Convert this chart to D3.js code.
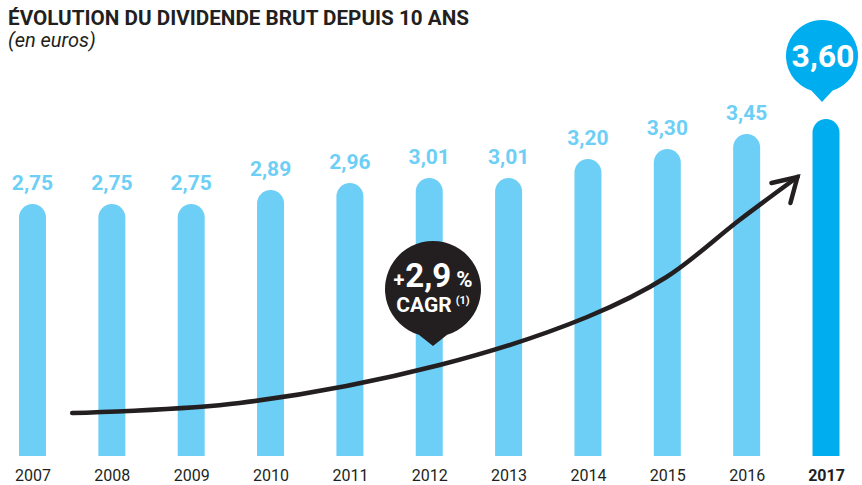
<!DOCTYPE html>
<html>
<head>
<meta charset="utf-8">
<script src="https://cdn.jsdelivr.net/npm/d3@7"></script>
<style>
  html, body { margin: 0; padding: 0; background: #fff; }
  svg { display: block; }
  text { font-family: Roboto, "Open Sans", sans-serif; }
</style>
</head>
<body>
<svg id="chart" width="862" height="485"></svg>
<script>
// ---- data ----
const years = ["2007","2008","2009","2010","2011","2012","2013","2014","2015","2016","2017"];
const dividends = [2.75, 2.75, 2.75, 2.89, 2.96, 3.01, 3.01, 3.20, 3.30, 3.45, 3.60];
const valueLabels = ["2,75","2,75","2,75","2,89","2,96","3,01","3,01","3,20","3,30","3,45","3,60"];
const highlightYear = "2017";
const title = "ÉVOLUTION DU DIVIDENDE BRUT DEPUIS 10 ANS";
const subtitle = "(en euros)";
const cagrText = ["2,9", "CAGR"];
// trend arrow annotation, in [year, value] units
const trendYears = [2007.50, 2009.61, 2012.13, 2013.99, 2014.99, 2015.91, 2016.64];
const trendValues = [0.66, 0.76, 1.14, 1.62, 2.02, 2.59, 3.02];

const lightBlue = "#6dcff6", strongBlue = "#00aeef", ink = "#231f20";

const svg = d3.select("#chart");
const x = d3.scalePoint().domain(years).range([32.5, 826]);
const xNum = d3.scaleLinear().domain([2007, 2017]).range([32.5, 826]);
const y = d3.scaleLinear().domain([0.23, 3.60]).range([456, 119]);
const barW = 27, r = barW / 2;
const baseY = y(0.23);

// title
svg.append("text").attr("x", 8).attr("y", 25)
  .attr("font-size", 20).attr("font-weight", 700).attr("fill", ink)
  .attr("textLength", 461).attr("lengthAdjust", "spacingAndGlyphs").text(title);
svg.append("text").attr("x", 8).attr("y", 47)
  .attr("font-size", 20).attr("font-style", "italic").attr("fill", ink).text(subtitle);

// bars
const data = years.map((yr, i) => ({ yr, v: dividends[i], lab: valueLabels[i] }));
svg.append("g").selectAll("path").data(data).join("path")
  .attr("fill", d => d.yr === highlightYear ? strongBlue : lightBlue)
  .attr("d", d => {
    const cx = x(d.yr), top = y(d.v);
    return `M${cx - r},${baseY} L${cx - r},${top + r} A${r},${r} 0 0 1 ${cx + r},${top + r} L${cx + r},${baseY} Z`;
  });

// value labels (except highlighted)
svg.append("g").selectAll("text").data(data.filter(d => d.yr !== highlightYear)).join("text")
  .attr("x", d => x(d.yr)).attr("y", d => y(d.v) - 14)
  .attr("text-anchor", "middle").attr("font-size", 21).attr("font-weight", 700)
  .attr("fill", lightBlue).text(d => d.lab);

// x axis labels
const xAxis = d3.axisBottom(x).tickSize(0).tickPadding(0);
const gx = svg.append("g").attr("transform", `translate(0,${baseY})`).call(xAxis);
gx.select(".domain").remove();
gx.selectAll("text")
  .attr("y", 0).attr("dy", 0)
  .attr("transform", "translate(0,25)")
  .style("font-family", "Roboto, sans-serif")
  .attr("font-size", 16).attr("fill", ink)
  .attr("font-weight", d => d === highlightYear ? 700 : 400);

// trend arrow
const pts = trendYears.map((t, i) => [xNum(t), y(trendValues[i])]);
svg.append("path")
  .attr("d", d3.line().curve(d3.curveCatmullRom.alpha(0.5))(pts))
  .attr("fill", "none").attr("stroke", ink).attr("stroke-width", 4.5).attr("stroke-linecap", "round");
const tip = pts[pts.length - 1];
svg.append("path")
  .attr("d", `M${tip[0] - 26},${tip[1] + 6} L${tip[0]},${tip[1]} L${tip[0] - 7},${tip[1] + 26}`)
  .attr("fill", "none").attr("stroke", ink).attr("stroke-width", 4.5)
  .attr("stroke-linecap", "round").attr("stroke-linejoin", "miter");

// bubble helper
function bubble(cx, cy, rad, tipY, color) {
  const a = 0.3; // half-angle of pointer base
  const x1 = cx + rad * Math.sin(a), y1 = cy + rad * Math.cos(a);
  const x2 = cx - rad * Math.sin(a);
  return svg.append("path").attr("fill", color)
    .attr("d", `M${x1},${y1} A${rad},${rad} 0 1 0 ${x2},${y1} L${cx},${tipY} Z`);
}

// CAGR bubble
const cagrX = 433, cagrY = 289;
bubble(cagrX, cagrY, 48, 346, ink);
const t1 = svg.append("text").attr("x", cagrX).attr("y", cagrY - 2)
  .attr("text-anchor", "middle").attr("fill", "#fff").attr("font-weight", 700);
t1.append("tspan").attr("font-size", 20).text("+");
t1.append("tspan").attr("font-size", 33).attr("dx", 1).text(cagrText[0]);
t1.append("tspan").attr("font-size", 22).attr("dx", 5).text("%");
const t2 = svg.append("text").attr("x", cagrX).attr("y", cagrY + 23)
  .attr("text-anchor", "middle").attr("fill", "#fff").attr("font-weight", 700);
t2.append("tspan").attr("font-size", 21).text(cagrText[1]);
t2.append("tspan").attr("font-size", 11).attr("dx", 4).attr("dy", -8).text("(1)");

// highlighted value bubble
const last = data[data.length - 1];
const bx = x(last.yr) - 4;
bubble(bx, 56, 36, 102, strongBlue);
svg.append("text").attr("x", bx + 1).attr("y", 67)
  .attr("text-anchor", "middle").attr("fill", "#fff")
  .attr("font-size", 32).attr("font-weight", 700).text(last.lab);
</script>
</body>
</html>
